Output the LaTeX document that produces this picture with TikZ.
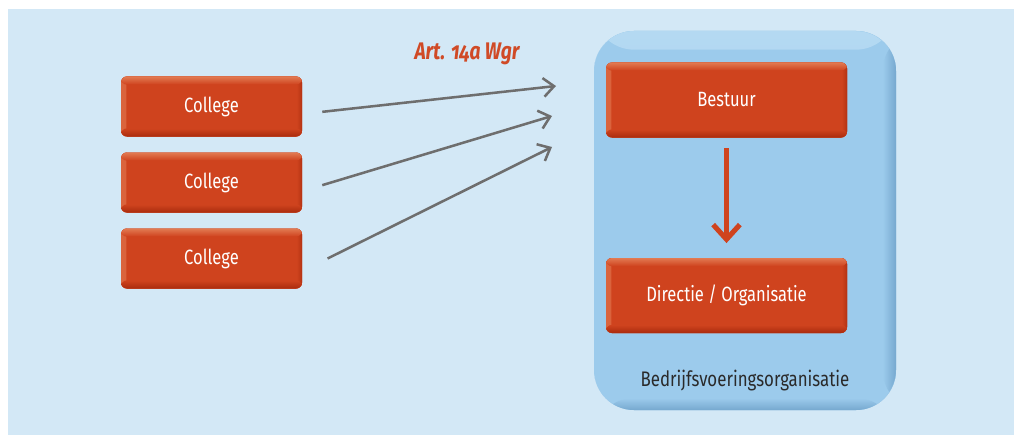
\documentclass[tikz,border=0pt]{standalone}
\usepackage{fontspec}
\setmainfont{Fira Sans}[FakeStretch=0.8,Numbers=OldStyle]
\usetikzlibrary{arrows.meta}
\definecolor{panelblue}{HTML}{D3E8F6}
\definecolor{boxblue}{HTML}{9CCBEC}
\definecolor{boxbluelight}{HTML}{B4D9F2}
\definecolor{boxbluedark}{HTML}{76A8CF}
\definecolor{orangebase}{HTML}{CF431E}
\definecolor{orangelight}{HTML}{E27A52}
\definecolor{orangedark}{HTML}{A92B0E}
\definecolor{lawred}{HTML}{D04A26}
\definecolor{arrowgray}{HTML}{6E6E6E}
\definecolor{textdark}{HTML}{2A2A2A}
\begin{document}
\begin{tikzpicture}[x=0.75pt,y=-0.75pt,
  orangebox/.style={rounded corners=4.5pt,fill=orangebase,text=white,
    node font=\fontsize{15.5}{18}\selectfont,inner sep=0pt,
    path picture={
      \fill[left color=orangelight!60!orangebase,right color=orangebase] (path picture bounding box.north west) rectangle ([xshift=4pt]path picture bounding box.south west);
      \fill[left color=orangebase,right color=orangedark!70!orangebase] ([xshift=-4pt]path picture bounding box.north east) rectangle (path picture bounding box.south east);
      \fill[top color=orangelight,bottom color=orangebase] (path picture bounding box.north west) rectangle ([yshift=-6pt]path picture bounding box.north east);
      \fill[top color=orangebase,bottom color=orangedark] ([yshift=6pt]path picture bounding box.south west) rectangle (path picture bounding box.south east);
    }},
  college/.style={orangebox,minimum width=135.75pt,minimum height=45pt},
  bvobox/.style={orangebox,minimum width=180.75pt,minimum height=56.25pt},
  grayarrow/.style={draw=arrowgray,line width=1.9pt,-{Straight Barb[length=8pt,width=14pt]}},
]
% achtergrond
\useasboundingbox (0,0) rectangle (1014,435);
\fill[white] (0,0) rectangle (1014,435);
\fill[panelblue] (8,9) rectangle (1014,435);

% bedrijfsvoeringsorganisatie
\node[rounded corners=30pt,fill=boxblue,minimum width=226.5pt,minimum height=284.25pt,inner sep=0pt,
  path picture={
    \fill[top color=boxbluelight,bottom color=boxblue] (path picture bounding box.north west) rectangle ([yshift=-14pt]path picture bounding box.north east);
    \fill[left color=boxblue,right color=boxbluedark] ([xshift=-10pt]path picture bounding box.north east) rectangle (path picture bounding box.south east);
    \fill[top color=boxblue,bottom color=boxbluedark] ([yshift=9pt]path picture bounding box.south west) rectangle (path picture bounding box.south east);
  }] (bvo) at (745,220.5) {};
\node[bvobox] (bestuur) at (726.5,100) {Bestuur};
\node[bvobox] (directie) at (726.5,295.5) {Directie / Organisatie};
\node[text=textdark,font=\fontsize{15.8}{18}\selectfont] (bvolabel) at (745,381) {Bedrijfsvoeringsorganisatie};
\draw[draw=orangebase,line width=3.8pt,-{Straight Barb[length=11pt,width=20pt]},shorten <=8pt,shorten >=11pt]
  (bestuur.south) -- (directie.north);

% colleges
\node[college] (c1) at (211.5,106.5) {College};
\node[college] (c2) at (211.5,182.5) {College};
\node[college] (c3) at (211.5,258.5) {College};

\coordinate (t1) at (556,86);
\coordinate (t2) at (552,116);
\coordinate (t3) at (552,147);
\draw[grayarrow] ([xshift=15pt,yshift=-4pt]c1.east) -- (t1);
\draw[grayarrow] ([xshift=15pt,yshift=-2pt]c2.east) -- (t2);
\draw[grayarrow] ([xshift=19pt,yshift=0pt]c3.east) -- (t3);
\node[text=lawred,font=\fontsize{18}{21}\selectfont\bfseries\itshape] (art) at (467,54) {Art. 14a Wgr};
\end{tikzpicture}
\end{document}
